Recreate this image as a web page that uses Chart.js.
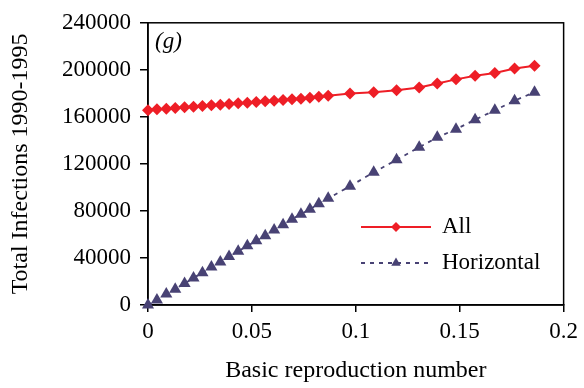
<!DOCTYPE html>
<html>
<head>
<meta charset="utf-8">
<script src="https://cdn.jsdelivr.net/npm/chart.js@4.4.1/dist/chart.umd.min.js"></script>
<style>
  html, body { margin: 0; padding: 0; background: #fff; }
</style>
</head>
<body>
<canvas id="infectChart" width="584" height="388"></canvas>
<script>
// values (g)
const r0Values = [0, 0.0043, 0.0088, 0.0131, 0.0176, 0.0219, 0.0262, 0.0305, 0.0348, 0.039,
  0.0434, 0.0478, 0.0521, 0.0564, 0.0607, 0.065, 0.0693, 0.0736, 0.0779, 0.0822,
  0.0867, 0.0972, 0.1086, 0.1196, 0.1305, 0.1392, 0.1482, 0.1574, 0.1669, 0.1764, 0.186];
const allInfections = [165600, 166500, 167000, 167600, 168200, 168700, 169300, 169800, 170400, 170900,
  171500, 172000, 172600, 173200, 173700, 174300, 174900, 175400, 176300, 177100,
  177900, 179800, 181000, 182700, 185000, 188400, 191900, 195000, 197300, 201100, 203500];
const horizontalInfections = [0, 4200, 9300, 13500, 18300, 23000, 27500, 32300, 36500, 41300,
  45700, 50300, 54700, 58900, 63700, 68200, 73000, 77200, 81400, 86100,
  90700, 101000, 112800, 123500, 134100, 142600, 149500, 157600, 165600, 173800, 181000];
const xTicks = [0, 0.05, 0.1, 0.15, 0.2];
const yTicks = [0, 40000, 80000, 120000, 160000, 200000, 240000];
const seriesNames = ['All', 'Horizontal'];
const panelTag = '(g)';

const RED = 'rgb(238,30,38)';
const SLATE = 'rgb(72,66,116)';
const SERIF = '"Liberation Serif", "DejaVu Serif", serif';

const pts = ys => r0Values.map((x, i) => ({ x: x, y: ys[i] }));

// box round the plot area, drawn under the markers
const framePlugin = {
    id: 'frame',
    beforeDatasetsDraw(chart) {
        const { ctx, chartArea: a } = chart;
        ctx.save();
        ctx.strokeStyle = '#000';
        ctx.lineWidth = 1.5;
        ctx.strokeRect(a.left, a.top, a.right - a.left, a.bottom - a.top);
        ctx.restore();
    }
};

// in-plot legend and panel letter
const legendPlugin = {
    id: 'inlineLegend',
    afterDraw(chart) {
        const { ctx } = chart;
        ctx.save();
        ctx.font = 'italic 23px ' + SERIF;
        ctx.fillStyle = '#000';
        ctx.textBaseline = 'middle';
        ctx.fillText(panelTag, 155, 42);

        const rows = [{ y: 227, ds: chart.data.datasets[0] }, { y: 263, ds: chart.data.datasets[1] }];
        rows.forEach(row => {
            const ds = row.ds;
            ctx.save();
            ctx.strokeStyle = ds.borderColor;
            ctx.lineWidth = ds.borderWidth;
            ctx.setLineDash(ds.borderDash || []);
            ctx.beginPath();
            ctx.moveTo(361, row.y);
            ctx.lineTo(431, row.y);
            ctx.stroke();
            ctx.restore();
            ctx.fillStyle = ds.pointBackgroundColor;
            ctx.strokeStyle = ds.pointBackgroundColor;
            Chart.helpers.drawPoint(ctx, {
                pointStyle: ds.pointStyle, radius: ds.legendRadius, rotation: 0, borderWidth: 0
            }, 396, row.y);
            ctx.fillStyle = '#000';
            ctx.font = '23px ' + SERIF;
            ctx.fillText(ds.label, 442, row.y);
        });
        ctx.restore();
    }
};

new Chart(document.getElementById('infectChart').getContext('2d'), {
    type: 'scatter',
    data: {
        datasets: [
            { label: seriesNames[0], data: pts(allInfections), showLine: true,
              borderColor: RED, borderWidth: 2, pointStyle: 'rectRot', pointRadius: 6, legendRadius: 5,
              pointBackgroundColor: RED, pointBorderColor: RED, pointBorderWidth: 0, clip: false },
            { label: seriesNames[1], data: pts(horizontalInfections), showLine: true,
              borderColor: SLATE, borderWidth: 1.8, borderDash: [4, 5], pointStyle: 'triangle', pointRadius: 7, legendRadius: 5.5,
              pointBackgroundColor: SLATE, pointBorderColor: SLATE, pointBorderWidth: 0, clip: false }
        ]
    },
    options: {
        responsive: false,
        animation: false,
        devicePixelRatio: 1,
        layout: { padding: { left: 0, top: 20, right: 18, bottom: 0 } },
        plugins: { legend: { display: false }, tooltip: { enabled: false } },
        scales: {
            x: {
                type: 'linear', min: 0, max: 0.2,
                afterBuildTicks: s => { s.ticks = xTicks.map(v => ({ value: v })); },
                afterFit: s => { s.height = 83; },
                ticks: { color: '#000', font: { family: SERIF, size: 23 }, padding: 6,
                         callback: v => String(v) },
                grid: { drawOnChartArea: false, color: '#000', lineWidth: 1.5, tickLength: 7 },
                border: { color: '#000', width: 1.5 },
                title: { display: true, text: 'Basic reproduction number', color: '#000',
                         font: { family: SERIF, size: 24 }, padding: { top: 0, bottom: 3 } }
            },
            y: {
                min: 0, max: 240000,
                afterBuildTicks: s => { s.ticks = yTicks.map(v => ({ value: v })); },
                afterFit: s => { s.width = 148; },
                ticks: { color: '#000', font: { family: SERIF, size: 23 }, padding: 9,
                         callback: v => String(v) },
                grid: { drawOnChartArea: false, color: '#000', lineWidth: 1.5, tickLength: 8 },
                border: { color: '#000', width: 1.5 },
                title: { display: true, text: 'Total Infections 1990-1995', color: '#000',
                         font: { family: SERIF, size: 24 }, padding: { top: 6, bottom: 0 } }
            }
        }
    },
    plugins: [framePlugin, legendPlugin]
});
</script>
</body>
</html>
